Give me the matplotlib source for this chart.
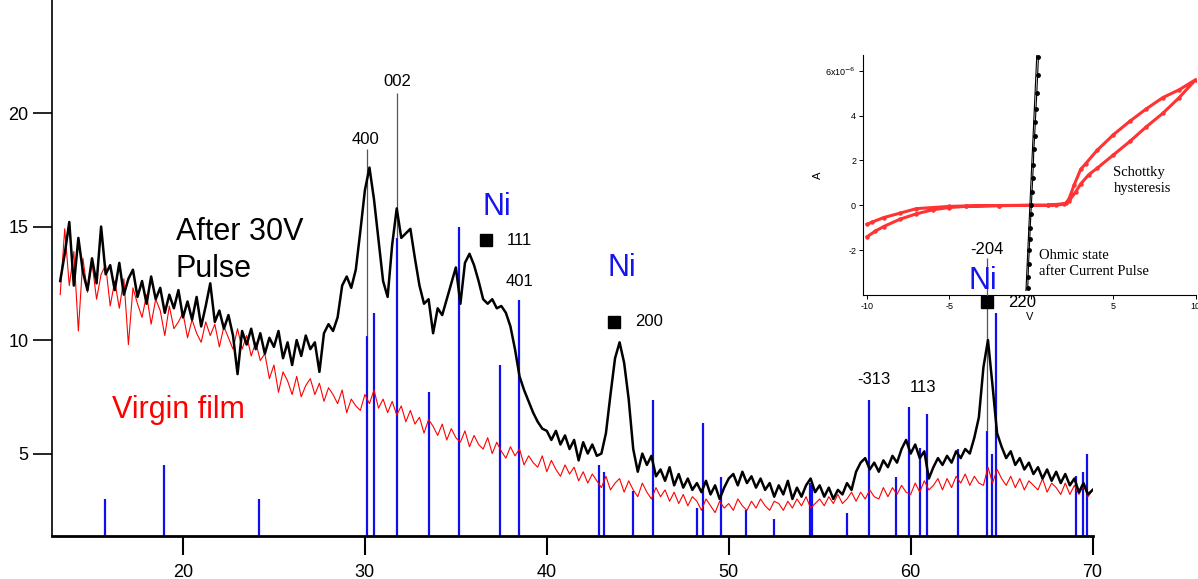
import numpy as np
import matplotlib
matplotlib.use("Agg")
import matplotlib.pyplot as plt

plt.rcParams['font.family'] = ['Liberation Sans', 'DejaVu Sans']

# 2-theta sampling grid of the scans (0.25 deg steps)
two_theta = np.arange(13.25, 70.01, 0.25)

# After 30V pulse (black)
after_pulse = [
    12.6, 13.8, 15.2, 12.4, 14.5, 13.0, 12.2, 13.6,
    12.5, 15.0, 12.9, 13.3, 12.2, 13.4, 12.0, 12.7,
    13.1, 11.9, 12.6, 11.6, 12.8, 11.8, 12.3, 11.2,
    12.0, 11.4, 12.2, 11.0, 11.7, 10.9, 11.9, 10.6,
    11.5, 12.5, 10.8, 11.3, 10.5, 11.1, 10.2, 8.5,
    10.4, 9.8, 10.5, 9.6, 10.3, 9.4, 10.1, 9.7,
    10.4, 9.2, 9.9, 8.9, 10.0, 9.3, 10.2, 9.6,
    9.9, 8.6, 10.3, 10.7, 10.4, 11.0, 12.4, 12.8,
    12.3, 13.1, 14.8, 16.6, 17.6, 16.2, 14.4, 12.6,
    11.9, 14.2, 15.8, 14.5, 14.7, 14.9, 13.6, 12.4,
    11.6, 11.8, 10.3, 11.4, 11.1, 11.8, 12.5, 13.2,
    11.6, 13.4, 13.8, 13.3, 12.6, 11.8, 11.6, 11.8,
    11.4, 11.5, 11.2, 10.6, 9.6, 8.4, 7.8, 7.3,
    6.8, 6.4, 6.1, 6.0, 5.6, 6.0, 5.4, 5.8,
    5.2, 5.6, 4.7, 5.5, 5.0, 5.4, 4.9, 5.0,
    5.9, 7.6, 9.2, 9.9, 9.0, 7.4, 5.2, 4.2,
    5.0, 4.5, 4.9, 4.0, 4.3, 3.8, 4.4, 3.6,
    4.1, 3.5, 3.9, 3.4, 3.7, 3.3, 3.8, 3.2,
    3.6, 3.0, 3.5, 3.9, 4.1, 3.6, 4.2, 3.7,
    4.0, 3.5, 3.9, 3.4, 3.7, 3.1, 3.6, 3.2,
    3.8, 3.0, 3.5, 3.1, 3.6, 3.9, 3.3, 3.6,
    3.1, 3.5, 3.0, 3.4, 3.2, 3.7, 3.4, 4.2,
    4.6, 4.8, 4.3, 4.6, 4.2, 4.7, 4.4, 4.9,
    4.6, 5.2, 5.6, 5.0, 5.4, 4.8, 5.1, 3.9,
    4.4, 4.8, 4.5, 4.9, 4.6, 5.1, 4.8, 5.2,
    5.0, 5.7, 6.6, 8.8, 10.0, 8.0, 5.9, 5.3,
    4.8, 5.1, 4.5, 4.8, 4.3, 4.6, 4.1, 4.4,
    3.9, 4.3, 3.8, 4.2, 3.7, 4.1, 3.6, 3.9,
    3.3, 3.7, 3.2, 3.4,
]

# Virgin film (red)
virgin = [
    12.0, 14.9, 12.4, 13.9, 10.4, 13.6, 12.1, 13.4,
    11.8, 12.9, 13.3, 11.5, 12.6, 11.4, 12.7, 9.8,
    12.3, 11.6, 11.0, 12.0, 10.7, 11.8, 11.3, 10.2,
    11.5, 10.5, 10.8, 11.2, 10.1, 10.9, 10.3, 9.9,
    10.8, 10.2, 10.7, 9.7, 10.6, 10.1, 9.6, 10.5,
    9.6, 10.2, 9.3, 9.9, 9.1, 9.4, 8.3, 8.9,
    7.7, 8.6, 8.2, 7.6, 8.4, 7.5, 8.0, 8.3,
    7.6, 8.1, 7.3, 7.9, 7.6, 7.2, 7.8, 6.8,
    7.4, 7.1, 6.9, 7.6, 7.2, 7.8, 7.0, 7.4,
    6.8, 7.3, 6.7, 7.1, 6.4, 6.9, 6.3, 6.6,
    5.9, 6.5, 6.2, 5.8, 6.3, 5.6, 6.1, 5.7,
    5.5, 6.0, 5.3, 5.8, 5.4, 5.2, 5.7, 5.0,
    5.5, 5.1, 4.8, 5.3, 4.9, 5.2, 4.5, 4.9,
    4.6, 4.4, 4.9, 4.2, 4.7, 4.3, 4.0, 4.5,
    4.1, 4.4, 3.8, 4.2, 3.7, 4.1, 3.8, 3.5,
    4.0, 3.4, 3.7, 3.9, 3.3, 3.8, 3.4, 3.1,
    3.7, 3.3, 3.0, 3.5, 3.1, 3.4, 2.9, 3.3,
    2.8, 3.2, 2.7, 3.1, 2.9, 2.5, 3.0, 2.7,
    2.4, 2.9, 2.6, 2.8, 2.5, 3.0, 2.7, 2.5,
    2.9, 2.6, 3.0, 2.7, 2.5, 2.9, 2.8, 2.5,
    2.9, 2.6, 3.0, 2.7, 3.1, 2.6, 2.8, 3.0,
    2.7, 3.1, 2.8, 3.2, 2.8, 3.0, 3.3, 2.9,
    3.3, 3.0, 3.4, 3.1, 3.0, 3.5, 3.1, 3.5,
    3.2, 3.6, 3.3, 3.2, 3.7, 3.3, 3.8, 3.4,
    3.6, 3.9, 3.4, 3.9, 3.5, 4.0, 3.7, 4.1,
    3.6, 4.0, 3.7, 3.6, 4.4, 3.7, 4.3, 3.9,
    3.6, 4.0, 3.5, 3.9, 3.4, 3.8, 3.6, 3.4,
    3.9, 3.3, 3.7, 3.5, 3.2, 3.7, 3.2, 3.6,
    3.2, 3.6, 3.1, 3.4,
]

# reference pattern sticks (blue)
ref_pos = [15.7, 18.95, 24.2, 30.1, 30.5, 31.76, 33.5, 35.2, 37.4, 38.45,
           42.86, 43.15, 44.75, 45.84, 48.24, 48.6, 49.6, 50.97, 52.48,
           54.45, 54.6, 56.5, 57.7, 59.2, 59.9, 60.5, 60.9, 62.6, 64.2,
           64.45, 64.7, 69.07, 69.45, 69.7]
ref_height = [3.0, 4.5, 3.0, 10.2, 11.2, 14.5, 7.7, 15.0, 8.9, 11.76,
              4.5, 4.2, 3.35, 7.35, 2.6, 6.35, 3.95, 2.5, 2.1,
              3.7, 3.6, 2.4, 7.35, 3.95, 7.05, 5.25, 6.75, 5.2, 6.0,
              5.0, 11.2, 4.0, 4.2, 5.0]

# peak marker lines (gray): position, bottom, top
mark_pos = [30.1, 31.76, 64.2]
mark_lo = [10.2, 14.5, 6.0]
mark_hi = [18.4, 20.9, 13.6]

# inset I-V data (current in 1e-6 A)
schottky_v = [-10, -9.5, -9, -8, -7, -6, -5, -4, -2, 0, 1, 1.5, 2, 2.3, 2.7,
              3.0, 3.5, 4, 5, 6, 7, 8, 9, 10,
              9, 8, 7, 6, 5, 4, 3.3, 3.0, 2.6, 2.3, 2.1, 1, 0, -2, -4, -5,
              -6, -7, -8, -9, -9.7, -10]
schottky_i = [-1.4, -1.15, -0.95, -0.62, -0.38, -0.2, -0.1, -0.05, -0.02, 0, 0,
              0.01, 0.05, 0.2, 0.6, 0.95, 1.37, 1.65, 2.25, 2.85, 3.5, 4.1,
              4.8, 5.6,
              5.15, 4.8, 4.3, 3.75, 3.15, 2.45, 1.85, 1.6, 0.9, 0.3, 0.08,
              0.0, 0.0, -0.01, -0.03, -0.05, -0.1, -0.15, -0.35, -0.55,
              -0.75, -0.85]
ohmic_v = [-0.22, -0.2, -0.17, -0.13, -0.1, -0.07, -0.03, 0.0, 0.04, 0.08,
           0.12, 0.15, 0.2, 0.24, 0.28, 0.33, 0.38, 0.43]
ohmic_i = [-3.7, -3.2, -2.6, -2.0, -1.5, -1.0, -0.4, 0.0, 0.6, 1.2,
           1.8, 2.5, 3.1, 3.7, 4.3, 5.0, 5.8, 6.6]
ohmic2_v = [-0.33, 0.33]
ohmic2_i = [-3.8, 6.7]

fig = plt.figure(figsize=(11.98, 5.79), dpi=100)
ax = fig.add_axes([0.0434, 0.0743, 0.8686, 0.9257])
ax.set_zorder(2)
ax.patch.set_visible(False)

ax.vlines(ref_pos, 1.37, ref_height, color='#1010ee', lw=1.6, zorder=1)
ax.vlines(mark_pos, mark_lo, mark_hi, color='#555555', lw=0.9, zorder=1)
ax.plot(two_theta, virgin, color='red', lw=0.8, zorder=2)
ax.plot(two_theta, after_pulse, color='black', lw=1.8, zorder=3)

ax.set_xlim(12.8, 70)
ax.set_ylim(1.37, 24.98)
ax.set_xticks([20, 30, 40, 50, 60, 70])
ax.set_yticks([5, 10, 15, 20])
for s in ['top', 'right']:
    ax.spines[s].set_visible(False)
ax.spines['bottom'].set_linewidth(2)
ax.spines['left'].set_linewidth(1.2)
ax.tick_params(axis='x', length=14, width=1.5, labelsize=13, pad=6)
ax.tick_params(axis='y', length=14, width=1.2, labelsize=13, pad=3)

# annotations
ax.text(30.05, 18.85, '400', ha='center', va='center', fontsize=12)
ax.text(31.76, 21.37, '002', ha='center', va='center', fontsize=12)
ax.text(38.5, 12.56, '401', ha='center', va='center', fontsize=12)
ax.text(58.0, 8.28, '-313', ha='center', va='center', fontsize=12)
ax.text(60.7, 7.9, '113', ha='center', va='center', fontsize=12)
ax.text(64.2, 14.0, '-204', ha='center', va='center', fontsize=12)

ni_x = [37.25, 44.1, 63.96]
ni_y = [15.86, 13.17, 12.6]
sq_x = [36.65, 43.7, 64.2]
sq_y = [14.4, 10.8, 11.67]
ni_hkl = ['111', '200', '220']
for nx, ny, sx, sy, h in zip(ni_x, ni_y, sq_x, sq_y, ni_hkl):
    ax.text(nx, ny, 'Ni', color='#1515ee', fontsize=22, ha='center', va='center')
    ax.plot(sx, sy, 's', color='black', ms=8)
    ax.text(sx + 1.15, sy, h, fontsize=12, ha='left', va='center')

ax.text(19.6, 14.41, 'After 30V', fontsize=22, ha='left', va='baseline')
ax.text(19.6, 12.78, 'Pulse', fontsize=22, ha='left', va='baseline')
ax.text(16.1, 6.56, 'Virgin film', fontsize=22, color='red', ha='left', va='baseline')

# inset I-V curve
ins = fig.add_axes([0.7204, 0.4905, 0.2776, 0.4145])
ins.set_zorder(1)
ins.patch.set_visible(False)
ins.plot(schottky_v, schottky_i, color='#ff3333', lw=2.2, marker='o', ms=2.2)
ins.plot(ohmic2_v, ohmic2_i, color='black', lw=0.8)
ins.plot(ohmic_v, ohmic_i, color='black', lw=0.8, marker='o', ms=2.5)
ins.set_xlim(-10.25, 10)
ins.set_ylim(-4.0, 6.7)
ins.set_xticks([-10, -5, 0, 5, 10])
ins.set_xticklabels(['-10', '-5', '', '5', '10'])
ins.set_yticks([-2, 0, 2, 4, 6])
ins.set_yticklabels(['-2', '0', '2', '4', '6x10$^{-6}$'])
for s in ['top', 'right']:
    ins.spines[s].set_visible(False)
ins.spines['left'].set_linewidth(0.8)
ins.spines['bottom'].set_linewidth(0.8)
ins.tick_params(length=3, width=0.7, labelsize=6.5, pad=2)
ins.set_xlabel('V', fontsize=8, labelpad=1)
ins.set_ylabel('A', fontsize=8, labelpad=2)
ins.text(5.0, 1.75, 'Schottky\nhysteresis', family='Liberation Serif',
         fontsize=10.5, va='top', ha='left', linespacing=1.3)
ins.text(0.45, -1.95, 'Ohmic state\nafter Current Pulse', family='Liberation Serif',
         fontsize=10.5, va='top', ha='left', linespacing=1.3)

fig.savefig('out.png', dpi=100)
